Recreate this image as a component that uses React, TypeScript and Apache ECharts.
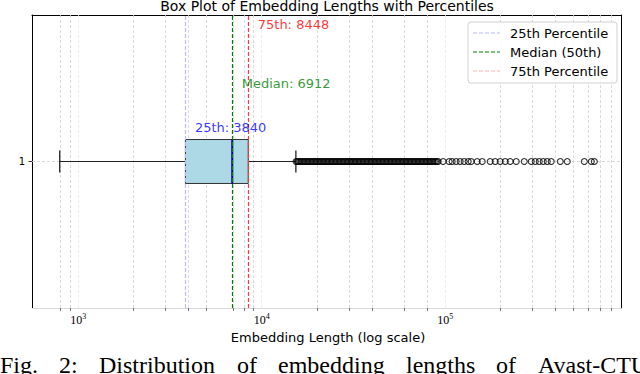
import React, { useEffect, useRef } from 'react';
import * as echarts from 'echarts';

// ---- data ----
const categoryLabels = ['1'];
// [lower whisker, Q1, median, Q3, upper whisker]
const boxStats = [793, 3840, 6912, 8448, 15360];
const percentileNames = ['25th Percentile', 'Median (50th)', '75th Percentile'];
const percentileValues = [3840, 6912, 8448];
const annotationTexts = ['25th: 3840', 'Median: 6912', '75th: 8448'];
const annotationY = [1.117, 1.266, 1.466];
const denseOutliers = [
  15400, 15650, 15920, 16190, 16460, 16740, 17020, 17310, 17600, 17900, 18200, 18510, 18830, 19150,
  19470, 19800, 20140, 20480, 20830, 21180, 21540, 21900, 22280, 22650, 23040, 23430, 23830, 24230,
  24640, 25060, 25490, 25920, 26360, 26810, 27260, 27720, 28190, 28670, 29160, 29650, 30160, 30670,
  31190, 31720, 32260, 32800, 33360, 33930, 34500, 35090, 35690, 36290, 36910, 37540, 38170, 38820,
  39480, 40150, 40830, 41530, 42230, 42950, 43680, 44420, 45170, 45940, 46720, 47510, 48320, 49140,
  49970, 50820, 51690, 52570, 53460, 54370, 55290, 56230, 57180, 58150, 59140, 60150, 61170, 62200,
  63260, 64330, 65430, 66540, 67670, 68820, 69990, 71180, 72390, 73620, 74870, 76140, 77430, 78750,
  80090, 81450, 82840, 84240, 85670, 87130, 88610, 90110,
];
const sparseOutliers = [
  91600, 97500, 105100, 109200, 114800, 120700, 126900, 133500, 138600, 149500, 159200, 176000,
  187400, 199500, 212500, 226200, 244000, 269800, 294600, 309700, 325700, 342400, 360100, 378600,
  424000, 463000, 573300, 625900, 650000,
];
const majorTicks = [1000, 10000, 100000];
const minorGridValues = [
  800, 900, 2000, 3000, 4000, 5000, 7000, 8000, 9000, 20000, 30000, 40000, 60000, 80000,
  200000, 300000, 400000, 500000, 600000, 700000, 800000,
];
const xMin = 560;
const xMax = 908700;
const titleText = 'Box Plot of Embedding Lengths with Percentiles';
const xAxisTitle = 'Embedding Length (log scale)';
const captionWords = ['Fig.', '2:', 'Distribution', 'of', 'embedding', 'lengths', 'of', 'Avast-CTU'];

// ---- styles ----
const plotLineColors = ['#b8b8ff', '#008000', '#ff3b3b'];
const legendLineColors = ['#b8b8ff', '#008000', '#ffb0b0'];
const textColors = ['#0000ff', '#008000', '#ff0000'];
const captionX = [0, 59, 99, 237, 278, 406, 496, 538];
const SANS = 'DejaVu Sans';
const SERIF = 'Liberation Serif';

export default function App() {
  const ref = useRef<HTMLDivElement>(null);
  useEffect(() => {
    if (!ref.current) return;
    const chart = echarts.init(ref.current, null, { renderer: 'svg' });
    const half = 0.075;
    const capHalf = 0.0375;

    const legendRows = [33, 52, 71];
    const graphic: any[] = [
      {
        type: 'text', z: 100, x: 327, y: 6,
        style: { text: titleText, fontSize: 14, fontFamily: SANS, fill: '#000', align: 'center', verticalAlign: 'middle' },
      },
      {
        type: 'text', z: 100, x: 328, y: 337,
        style: { text: xAxisTitle, fontSize: 13, fontFamily: SANS, fill: '#000', align: 'center', verticalAlign: 'middle' },
      },
      {
        type: 'rect', z: 100,
        shape: { x: 468, y: 22, width: 149, height: 61, r: 3 },
        style: { fill: 'rgba(255,255,255,0.85)', stroke: '#d0d0d0', lineWidth: 1 },
      },
    ];
    percentileNames.forEach((name, i) => {
      graphic.push({
        type: 'line', z: 101,
        shape: { x1: 473, y1: legendRows[i], x2: 500, y2: legendRows[i] },
        style: { stroke: legendLineColors[i], lineWidth: 1.2, lineDash: [4, 2] },
      });
      graphic.push({
        type: 'text', z: 101, x: 510, y: legendRows[i],
        style: { text: name, fontSize: 13, fontFamily: SANS, fill: '#000', align: 'left', verticalAlign: 'middle' },
      });
    });
    captionWords.forEach((w, i) => {
      graphic.push({
        type: 'text', z: 100, x: captionX[i], y: 365,
        style: { text: w, fontSize: 24, fontFamily: SERIF, fill: '#000', align: 'left', verticalAlign: 'middle' },
      });
    });

    const option: any = {
      animation: false,
      grid: { left: 32, right: 19, top: 15, bottom: 66 },
      xAxis: [
        {
          type: 'log', logBase: 10, min: xMin, max: xMax,
          axisLine: { show: true, lineStyle: { color: '#d9d9d9', width: 1 } },
          axisTick: { show: true, customValues: minorGridValues, length: 3, lineStyle: { color: '#555', width: 0.8 } },
          minorTick: { show: false },
          splitLine: { show: false },
          axisLabel: {
            customValues: majorTicks,
            margin: 4,
            formatter: (v: number) => `{b|10}{s|${Math.round(Math.log10(v))}}`,
            rich: {
              b: { fontSize: 12, fontFamily: SERIF, color: '#000', lineHeight: 14, verticalAlign: 'bottom' },
              s: { fontSize: 8, fontFamily: SERIF, color: '#000', lineHeight: 14, verticalAlign: 'top' },
            },
          },
        },
        {
          type: 'log', logBase: 10, min: xMin, max: xMax, position: 'top',
          axisLine: { show: true, lineStyle: { color: '#000', width: 1 } },
          axisTick: { show: false }, axisLabel: { show: false }, splitLine: { show: false },
        },
      ],
      yAxis: [
        {
          type: 'value', min: 0.5, max: 1.5,
          axisLine: { show: true, lineStyle: { color: '#000', width: 1 } },
          axisTick: { show: true, customValues: [1], length: 3.5, lineStyle: { color: '#000', width: 0.8 } },
          axisLabel: {
            customValues: [1], margin: 7, fontSize: 10, fontFamily: SANS, color: '#000',
            formatter: () => categoryLabels[0],
          },
          splitLine: { show: false },
        },
        {
          type: 'value', min: 0.5, max: 1.5, position: 'right',
          axisLine: { show: true, lineStyle: { color: '#000', width: 1 } },
          axisTick: { show: false }, axisLabel: { show: false }, splitLine: { show: false },
        },
      ],
      graphic,
      series: [
        {
          type: 'line', data: [], silent: true,
          markLine: {
            z: 1, silent: true, symbol: ['none', 'none'], label: { show: false },
            lineStyle: { color: '#d0d0d0', width: 0.8, type: [3, 2] },
            data: [
              ...minorGridValues.map((v) => ({ xAxis: v })),
              ...majorTicks.map((v) => ({ xAxis: v, lineStyle: { color: '#e8e8e8', width: 0.8, type: [3, 2] } })),
              { yAxis: 1 },
            ],
          },
        },
        {
          type: 'custom', z: 3, silent: true,
          data: [[...boxStats, 1]],
          encode: { x: [0, 1, 2, 3, 4], y: 5 },
          renderItem: (_p: any, api: any) => {
            const lo = api.value(0), q1 = api.value(1), med = api.value(2), q3 = api.value(3), hi = api.value(4);
            const yv = api.value(5);
            const [xLo, yc] = api.coord([lo, yv]);
            const xQ1 = api.coord([q1, yv])[0];
            const xMed = api.coord([med, yv])[0];
            const xQ3 = api.coord([q3, yv])[0];
            const xHi = api.coord([hi, yv])[0];
            const yTop = api.coord([q1, yv + half])[1];
            const yBot = api.coord([q1, yv - half])[1];
            const cTop = api.coord([q1, yv + capHalf])[1];
            const cBot = api.coord([q1, yv - capHalf])[1];
            return {
              type: 'group',
              children: [
                { type: 'line', shape: { x1: xLo, y1: yc, x2: xQ1, y2: yc }, style: { stroke: '#222', lineWidth: 1 } },
                { type: 'line', shape: { x1: xQ3, y1: yc, x2: xHi, y2: yc }, style: { stroke: '#222', lineWidth: 1 } },
                { type: 'line', shape: { x1: xLo, y1: cTop, x2: xLo, y2: cBot }, style: { stroke: '#222', lineWidth: 1.3 } },
                { type: 'line', shape: { x1: xHi, y1: cTop, x2: xHi, y2: cBot }, style: { stroke: '#222', lineWidth: 1.3 } },
                {
                  type: 'rect', shape: { x: xQ1, y: yTop, width: xQ3 - xQ1, height: yBot - yTop },
                  style: { fill: '#add8e6', stroke: '#333', lineWidth: 1 },
                },
                { type: 'line', shape: { x1: xMed, y1: yTop, x2: xMed, y2: yBot }, style: { stroke: '#00008b', lineWidth: 2 } },
              ],
            };
          },
        },
        {
          type: 'scatter', z: 3, silent: true,
          data: [...denseOutliers, ...sparseOutliers].map((v) => [v, 1]),
          symbol: 'circle', symbolSize: 6,
          itemStyle: { color: 'rgba(0,0,0,0)', borderColor: '#000', borderWidth: 1.1 },
        },
        {
          type: 'line', data: [], silent: true,
          markLine: {
            z: 5, silent: true, symbol: ['none', 'none'], label: { show: false },
            data: percentileValues.map((v, i) => ({
              xAxis: v, lineStyle: { color: plotLineColors[i], width: 1.2, type: [4, 2] },
            })),
          },
        },
        {
          type: 'scatter', z: 6, silent: true,
          symbol: 'circle', symbolSize: 1,
          itemStyle: { color: 'rgba(0,0,0,0)' },
          data: percentileValues.map((v, i) => ({
            value: [v, annotationY[i]],
            label: { color: textColors[i] },
          })),
          label: {
            show: true, position: 'right', distance: 9, fontSize: 13, fontFamily: SANS,
            formatter: (p: any) => annotationTexts[p.dataIndex],
          },
        },
      ],
    };
    chart.setOption(option);
    return () => chart.dispose();
  }, []);
  return (
    <div
      ref={ref}
      style={{ position: 'fixed', left: 0, top: 0, width: 640, height: 374, background: '#fff' }}
    />
  );
}
